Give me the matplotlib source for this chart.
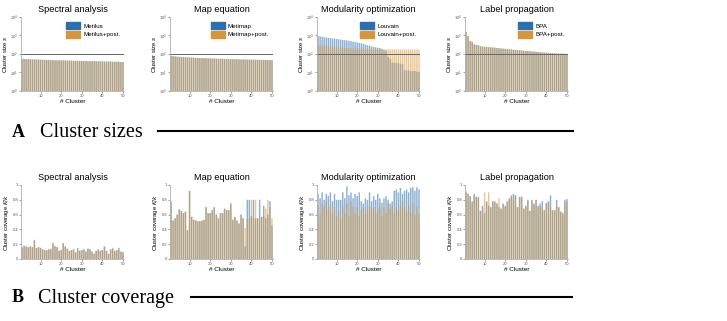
import matplotlib
matplotlib.use("Agg")
import matplotlib.pyplot as plt
from matplotlib.patches import Patch
from matplotlib.ticker import FixedLocator, FuncFormatter

plt.rcParams["font.family"] = ["Liberation Sans", "DejaVu Sans"]

BLUE = "#2a6fb0"
ORANGE = "#d8963a"

titles = ["Spectral analysis", "Map equation", "Modularity optimization", "Label propagation"]
legend_a = ["Metilus", "Metimap", "Louvain", "BPA"]
legend_b = ["Metilus+post.", "Metimap+post.", "Louvain+post.", "BPA+post."]
clusters = list(range(1, 51))

# cluster sizes (log scale)
size_spec_a = [56, 54, 53, 52, 52, 51, 51, 50, 50, 49, 49, 48, 48, 48, 47, 47, 46, 46, 46, 45,
               45, 45, 44, 44, 44, 43, 43, 43, 42, 42, 42, 42, 41, 41, 41, 41, 40, 40, 40, 40,
               39, 39, 39, 39, 38, 38, 38, 38, 37, 37]
size_spec_b = [55, 54, 53, 53, 52, 51, 51, 50, 50, 49, 49, 49, 48, 48, 47, 47, 47, 46, 46, 45,
               45, 45, 44, 44, 44, 43, 43, 43, 43, 42, 42, 42, 41, 41, 41, 40, 40, 40, 40, 39,
               39, 39, 39, 38, 38, 38, 38, 37, 37, 37]
size_map_a = [80, 76, 74, 72, 70, 69, 68, 67, 66, 65, 64, 63, 62, 62, 61, 60, 60, 59, 58, 58,
              57, 57, 56, 56, 55, 55, 54, 54, 54, 53, 53, 52, 52, 52, 51, 51, 51, 50, 50, 50,
              49, 49, 49, 48, 48, 48, 48, 47, 47, 47]
size_map_b = [78, 75, 73, 71, 70, 69, 68, 66, 65, 65, 64, 63, 62, 61, 61, 60, 59, 59, 58, 58,
              57, 56, 56, 55, 55, 55, 54, 54, 53, 53, 53, 52, 52, 51, 51, 51, 50, 50, 50, 49,
              49, 49, 48, 48, 48, 48, 47, 47, 47, 46]
size_mod_a = [950, 900, 850, 820, 780, 750, 720, 700, 680, 650, 620, 600, 580, 560, 540, 520, 500, 470, 440, 420,
              400, 380, 350, 320, 300, 280, 260, 240, 230, 220, 210, 190, 160, 150, 70, 55, 35, 34, 33, 32,
              30, 28, 14, 13, 13, 12, 12, 12, 11, 11]
size_mod_b = [300, 290, 280, 270, 260, 255, 250, 245, 240, 235, 230, 225, 220, 215, 210, 205, 200, 198, 196, 194,
              192, 190, 188, 186, 185, 184, 183, 182, 181, 180, 180, 179, 179, 178, 178, 177, 177, 176, 176, 175,
              175, 175, 174, 174, 174, 173, 173, 173, 172, 172]
size_lp_a = [1500, 900, 500, 450, 330, 310, 300, 260, 250, 245, 240, 235, 230, 225, 220, 210, 205, 200, 195, 190,
             185, 180, 175, 170, 165, 160, 158, 155, 150, 148, 145, 140, 138, 135, 130, 128, 125, 122, 120, 118,
             115, 112, 110, 108, 106, 105, 104, 103, 102, 101]
size_lp_b = [1600, 1000, 520, 460, 340, 300, 290, 270, 255, 245, 238, 232, 228, 222, 216, 212, 206, 200, 195, 190,
             184, 180, 176, 171, 166, 161, 158, 154, 151, 147, 144, 141, 137, 134, 131, 128, 125, 122, 120, 117,
             115, 112, 110, 108, 106, 105, 104, 103, 102, 101]
size_ref = 100

# cluster coverage K/k
cov_spec_a = [0.16, 0.18, 0.17, 0.16, 0.17, 0.16, 0.25, 0.15, 0.16, 0.15, 0.13, 0.12, 0.12, 0.13, 0.13, 0.21, 0.17, 0.16, 0.11, 0.12,
              0.21, 0.17, 0.14, 0.11, 0.12, 0.13, 0.09, 0.15, 0.11, 0.12, 0.13, 0.10, 0.14, 0.13, 0.10, 0.07, 0.11, 0.13, 0.11, 0.12,
              0.17, 0.11, 0.07, 0.13, 0.14, 0.11, 0.12, 0.15, 0.10, 0.09]
cov_spec_b = [0.15, 0.17, 0.17, 0.16, 0.17, 0.16, 0.26, 0.15, 0.16, 0.15, 0.13, 0.12, 0.12, 0.13, 0.14, 0.22, 0.18, 0.16, 0.11, 0.12,
              0.22, 0.17, 0.14, 0.11, 0.12, 0.13, 0.09, 0.12, 0.11, 0.12, 0.13, 0.10, 0.14, 0.13, 0.10, 0.07, 0.11, 0.12, 0.11, 0.12,
              0.17, 0.11, 0.07, 0.13, 0.15, 0.11, 0.12, 0.12, 0.10, 0.09]
cov_map_a = [0.78, 0.52, 0.55, 0.60, 0.67, 0.65, 0.62, 0.64, 0.39, 0.92, 0.57, 0.53, 0.52, 0.51, 0.51, 0.52, 0.53, 0.70, 0.62, 0.62,
             0.66, 0.70, 0.60, 0.55, 0.62, 0.62, 0.68, 0.66, 0.66, 0.75, 0.53, 0.57, 0.52, 0.48, 0.60, 0.55, 0.17, 0.80, 0.80, 0.58,
             0.80, 0.55, 0.55, 0.80, 0.57, 0.72, 0.55, 0.60, 0.78, 0.45]
cov_map_b = [0.74, 0.52, 0.55, 0.60, 0.67, 0.65, 0.62, 0.64, 0.39, 0.92, 0.57, 0.53, 0.52, 0.51, 0.51, 0.52, 0.53, 0.70, 0.62, 0.62,
             0.66, 0.70, 0.60, 0.55, 0.62, 0.62, 0.68, 0.66, 0.66, 0.75, 0.53, 0.57, 0.52, 0.48, 0.60, 0.55, 0.42, 0.54, 0.55, 0.80,
             0.55, 0.80, 0.55, 0.55, 0.57, 0.58, 0.68, 0.80, 0.70, 0.55]
cov_mod_a = [0.88, 0.82, 0.90, 0.80, 0.88, 0.85, 0.90, 0.78, 0.88, 0.80, 0.80, 0.80, 0.90, 0.82, 0.98, 0.86, 0.90, 0.82, 0.88, 0.85,
             0.90, 0.78, 0.75, 0.82, 0.80, 0.90, 0.78, 0.85, 0.80, 0.88, 0.82, 0.76, 0.82, 0.85, 0.80, 0.75, 0.78, 0.92, 0.94, 0.90,
             0.96, 0.88, 0.92, 0.94, 0.90, 0.96, 0.97, 0.92, 0.97, 0.94]
cov_mod_b = [0.72, 0.60, 0.75, 0.70, 0.78, 0.68, 0.72, 0.62, 0.70, 0.58, 0.65, 0.55, 0.70, 0.62, 0.75, 0.58, 0.78, 0.70, 0.62, 0.70,
             0.58, 0.66, 0.70, 0.60, 0.68, 0.72, 0.68, 0.70, 0.62, 0.68, 0.72, 0.58, 0.70, 0.62, 0.75, 0.68, 0.72, 0.62, 0.70, 0.66,
             0.72, 0.78, 0.70, 0.64, 0.72, 0.62, 0.75, 0.60, 0.70, 0.60]
cov_lp_a = [0.90, 0.88, 0.85, 0.78, 0.88, 0.84, 0.84, 0.65, 0.72, 0.62, 0.78, 0.72, 0.70, 0.78, 0.78, 0.75, 0.70, 0.68, 0.75, 0.72,
            0.78, 0.82, 0.86, 0.88, 0.86, 0.70, 0.84, 0.84, 0.68, 0.72, 0.80, 0.65, 0.80, 0.75, 0.80, 0.72, 0.75, 0.78, 0.66, 0.76,
            0.78, 0.86, 0.66, 0.66, 0.80, 0.70, 0.64, 0.62, 0.80, 0.81]
cov_lp_b = [0.92, 0.88, 0.85, 0.76, 0.86, 0.84, 0.82, 0.65, 0.66, 0.90, 0.76, 0.90, 0.70, 0.78, 0.76, 0.75, 0.82, 0.68, 0.74, 0.70,
            0.76, 0.80, 0.84, 0.80, 0.86, 0.70, 0.82, 0.84, 0.68, 0.70, 0.78, 0.65, 0.78, 0.72, 0.80, 0.70, 0.72, 0.70, 0.66, 0.74,
            0.76, 0.70, 0.66, 0.66, 0.72, 0.70, 0.64, 0.62, 0.76, 0.78]

sizes = [(size_spec_a, size_spec_b), (size_map_a, size_map_b), (size_mod_a, size_mod_b), (size_lp_a, size_lp_b)]
covs = [(cov_spec_a, cov_spec_b), (cov_map_a, cov_map_b), (cov_mod_a, cov_mod_b), (cov_lp_a, cov_lp_b)]

W, H = 727, 321
fig = plt.figure(figsize=(W / 100, H / 100), dpi=100)
lefts = [21, 170, 317, 465]
ax_w = 103
ax_h = 74


def style(ax):
    for s in ["top", "right"]:
        ax.spines[s].set_visible(False)
    for s in ["left", "bottom"]:
        ax.spines[s].set_color("#b0b0b0")
        ax.spines[s].set_linewidth(0.6)
    ax.tick_params(labelsize=3.0, length=1.2, width=0.4, pad=0.8, colors="#555555")
    ax.set_xlim(0.5, 50.5)
    ax.set_xticks([10, 20, 30, 40, 50])
    ax.set_xlabel("# Cluster", fontsize=4.6, labelpad=1)


def bars(ax, a, b):
    ax.bar(clusters, a, width=0.7, color=BLUE, alpha=0.55, linewidth=0, snap=False)
    ax.bar(clusters, b, width=0.7, color=ORANGE, alpha=0.55, linewidth=0, snap=False)


for i in range(4):
    # row A: cluster sizes
    ax = fig.add_axes([lefts[i] / W, 1 - 91 / H, ax_w / W, ax_h / H])
    bars(ax, *sizes[i])
    ax.set_yscale("log")
    ax.set_ylim(1, 1e4)
    ax.yaxis.set_major_locator(FixedLocator([1, 10, 100, 1000, 10000]))
    ax.yaxis.set_minor_locator(FixedLocator([]))
    ax.axhline(size_ref, color="#666666", lw=0.7)
    style(ax)
    ax.set_ylabel("Cluster size $s$", fontsize=4.2, labelpad=1)
    ax.set_title(titles[i], fontsize=6.6, pad=3.5)
    handles = [Patch(color=BLUE), Patch(color=ORANGE)]
    ax.legend(handles, [legend_a[i], legend_b[i]], loc="upper right", fontsize=4.5, frameon=False,
              handlelength=2.2, handleheight=1.3, handletextpad=0.5, labelspacing=0.3,
              borderaxespad=0.2, bbox_to_anchor=(1.0, 0.98))

    # row B: cluster coverage
    ax = fig.add_axes([lefts[i] / W, 1 - 259 / H, ax_w / W, ax_h / H])
    bars(ax, *covs[i])
    ax.set_ylim(0, 1)
    ax.set_yticks([0, 0.2, 0.4, 0.6, 0.8, 1])
    ax.yaxis.set_major_formatter(FuncFormatter(lambda v, p: f"{v:g}"))
    style(ax)
    ax.set_ylabel("Cluster coverage $K/k$", fontsize=4.2, labelpad=1)
    ax.set_title(titles[i], fontsize=6.6, pad=3.5)

# section headers
serif = ["Liberation Serif", "DejaVu Serif"]
fig.text(12 / W, 1 - 132 / H, "A", fontsize=13, fontweight="bold", family=serif, va="center")
fig.text(40 / W, 1 - 132 / H, "Cluster sizes", fontsize=14.5, family=serif, va="center")
fig.add_artist(plt.Line2D([158 / W, 573 / W], [1 - 131 / H, 1 - 131 / H], color="black", lw=1.5))
fig.text(12 / W, 1 - 298 / H, "B", fontsize=13, fontweight="bold", family=serif, va="center")
fig.text(38 / W, 1 - 298 / H, "Cluster coverage", fontsize=14.5, family=serif, va="center")
fig.add_artist(plt.Line2D([191 / W, 572 / W], [1 - 297 / H, 1 - 297 / H], color="black", lw=1.5))

fig.savefig("out.png", dpi=100)
